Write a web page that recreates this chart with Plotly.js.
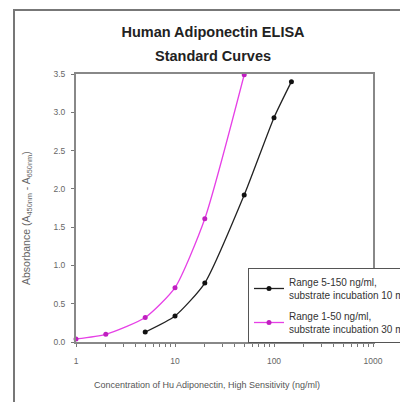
<!DOCTYPE html>
<html><head><meta charset="utf-8">
<script src="https://cdn.plot.ly/plotly-3.0.1.min.js"></script>
<style>html,body{margin:0;padding:0;background:#fff;}#chart{width:400px;height:402px;}</style>
</head><body><div id="chart"></div>
<script>
// Data
const concBlack = [5, 10, 20, 50, 100, 150];
const absBlack = [0.13, 0.34, 0.77, 1.92, 2.93, 3.40];
const concMagenta = [1, 2, 5, 10, 20, 50];
const absMagenta = [0.04, 0.10, 0.32, 0.71, 1.61, 3.49];
const seriesNames = ["Range 5-150 ng/ml,<br>substrate incubation 10 min", "Range 1-50 ng/ml,<br>substrate incubation 30 min"];
const yTicks = [0, 0.5, 1, 1.5, 2, 2.5, 3, 3.5];
const yTickText = ["0.0", "0.5", "1.0", "1.5", "2.0", "2.5", "3.0", "3.5"];
const xTicks = [1, 10, 100, 1000];

const FONT = 'Liberation Sans, Arial, sans-serif';
const traces = [
  {x: concBlack, y: absBlack, name: seriesNames[0], legendgroup: 'a', type: 'scatter', mode: 'lines+markers',
   line: {color: '#222', width: 1.3, shape: 'spline', smoothing: 0.6}, marker: {color: '#111', size: 5}},
  {x: concMagenta, y: absMagenta, name: seriesNames[1], legendgroup: 'b', type: 'scatter', mode: 'lines+markers',
   line: {color: '#e640e6', width: 1.3, shape: 'spline', smoothing: 0.6}, marker: {color: '#c01fc0', size: 5}, cliponaxis: false}
];

const axisFont = {family: FONT, size: 8.5, color: '#666'};
const layout = {
  width: 400, height: 402,
  margin: {l: 76, r: 27, t: 74, b: 60, autoexpand: false},
  paper_bgcolor: '#fff', plot_bgcolor: '#fff',
  title: {text: '<b>Human Adiponectin ELISA</b>', x: 213/400, xanchor: 'center', y: 1 - 31.5/402, yanchor: 'middle',
    font: {family: FONT, size: 14.5, color: '#222'}},
  xaxis: {type: 'log', range: [0, 3], tickvals: xTicks, ticktext: xTicks.map(String), ticks: 'outside', ticklen: 3,
    tickcolor: '#777', showgrid: false, zeroline: false, showline: true, linecolor: '#888', linewidth: 2, mirror: true,
    tickfont: axisFont, ticklabelstandoff: 7,
    minor: {ticks: 'outside', ticklen: 3, tickcolor: '#777', dtick: 'D1', showgrid: false}},
  yaxis: {range: [0, 3.5], tickvals: yTicks, ticktext: yTickText, ticks: 'outside', ticklen: 3, tickcolor: '#777',
    showgrid: false, zeroline: false, showline: true, linecolor: '#888', linewidth: 2, mirror: true, tickfont: axisFont,
    ticklabelstandoff: 4},
  legend: {x: (248-76)/297, y: (342-268)/268, xanchor: 'left', yanchor: 'top', bgcolor: '#fff', bordercolor: '#555', borderwidth: 1,
    font: {family: FONT, size: 10, color: '#333'}, tracegroupgap: 5, itemwidth: 30},
  annotations: [
    {text: '<b>Standard Curves</b>', xref: 'paper', yref: 'paper', x: (213-76)/297, y: (342-56.5)/268,
     xanchor: 'center', yanchor: 'middle', showarrow: false, font: {family: FONT, size: 14.5, color: '#222'}},
    {text: 'Concentration of Hu Adiponectin, High Sensitivity (ng/ml)', xref: 'paper', yref: 'paper',
     x: (207-76)/297, y: (342-385)/268, xanchor: 'center', yanchor: 'middle', showarrow: false,
     font: {family: FONT, size: 9, color: '#555'}},
    {text: 'Absorbance (A<sub>450nm</sub> - A<sub>650nm</sub>)', xref: 'paper', yref: 'paper', textangle: -90,
     x: (27-76)/297, y: (342-218)/268, xanchor: 'center', yanchor: 'middle', showarrow: false,
     font: {family: FONT, size: 10.5, color: '#666'}}
  ],
  shapes: [{type: 'rect', xref: 'paper', yref: 'paper', x0: (14-76)/297, x1: 1.3, y0: -0.5, y1: (342-10)/268,
    line: {color: '#777', width: 2}, fillcolor: 'rgba(0,0,0,0)', layer: 'below'}],
  showlegend: true
};
Plotly.newPlot('chart', traces, layout, {displayModeBar: false, staticPlot: true});
</script></body></html>
